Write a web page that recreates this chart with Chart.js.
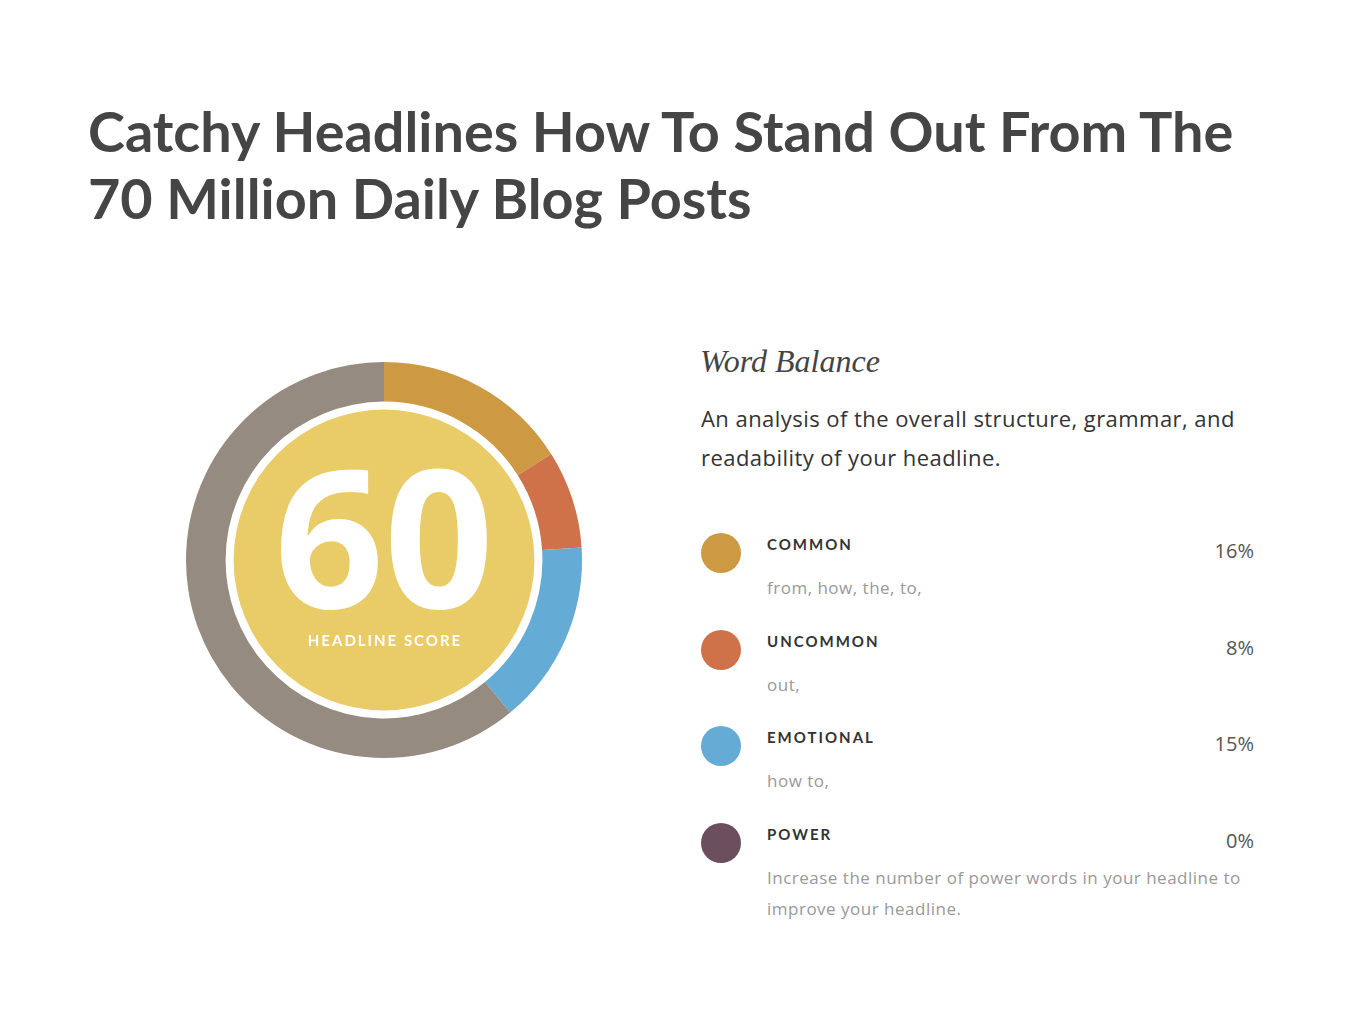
<!DOCTYPE html>
<html>
<head>
<meta charset="utf-8">
<script src="https://cdn.jsdelivr.net/npm/chart.js@4"></script>
<style>
  html, body { margin: 0; padding: 0; background: #fff; }
  body { width: 1361px; height: 1030px; position: relative; overflow: hidden; font-family: Lato, "Open Sans", sans-serif; }
  #title { position: absolute; left: 88px; top: 97px; width: 1220px; font-family: Lato, sans-serif; font-weight: 700; font-size: 55.8px; line-height: 67px; color: #454545; margin: 0; letter-spacing: 0px; }
  #chartWrap { position: absolute; left: 184px; top: 360px; width: 400px; height: 400px; }
  #wb { position: absolute; left: 700px; top: 343px; font-family: "Liberation Serif", serif; font-style: italic; font-size: 32px; color: #444; }
  #desc { position: absolute; left: 701px; top: 399px; width: 600px; font-family: "Open Sans", sans-serif; font-size: 22px; line-height: 39px; letter-spacing: 0.45px; color: #333; font-weight: 400; }
  .item { position: absolute; left: 701px; width: 553px; }
  .dot { position: absolute; left: 0; top: 0; width: 40px; height: 40px; border-radius: 50%; }
  .lab { position: absolute; left: 66px; top: 2px; font-weight: 700; font-size: 15px; letter-spacing: 2px; color: #333; }
  .pct { position: absolute; right: 0; top: 4px; font-family: "Open Sans", sans-serif; font-size: 20px; color: #555; font-weight: 400; }
  .sub { position: absolute; left: 66px; top: 39px; width: 520px; font-family: "Open Sans", sans-serif; font-size: 17px; line-height: 31px; letter-spacing: 0.5px; color: #999; }
</style>
</head>
<body>
<h1 id="title"></h1>
<div id="chartWrap"><canvas id="c" width="400" height="400"></canvas></div>
<div id="wb"></div>
<div id="desc"></div>
<div id="legend"></div>
<script>
const titleText = "Catchy Headlines How To Stand Out From The 70 Million Daily Blog Posts";
const sectionTitle = "Word Balance";
const sectionDesc = "An analysis of the overall structure, grammar, and readability of your headline.";
const score = 60;
const scoreLabel = "HEADLINE SCORE";

const categories = ["COMMON", "UNCOMMON", "EMOTIONAL", "POWER"];
const percentages = [16, 8, 15, 0];
const examples = ["from, how, the, to,", "out,", "how to,", "Increase the number of power words in your headline to<br>improve your headline."];
const remainderLabel = "OTHER";
const remainderValue = 61;

const colors = ["#CD9A43", "#CF7249", "#64ABD6", "#6C4F5E"];
const remainderColor = "#958B80";

document.getElementById('title').innerHTML = "Catchy Headlines How To Stand Out From The<br>70 Million Daily Blog Posts";
document.getElementById('wb').textContent = sectionTitle;
document.getElementById('desc').innerHTML = "An analysis of the overall structure, grammar, and<br>readability of your headline.";

const legendTops = [533, 630, 726, 823];
const legend = document.getElementById('legend');
categories.forEach((c, i) => {
  const d = document.createElement('div');
  d.className = 'item';
  d.style.top = legendTops[i] + 'px';
  d.innerHTML = '<div class="dot" style="background:' + colors[i] + '"></div>' +
    '<div class="lab">' + c + '</div>' +
    '<div class="pct">' + percentages[i] + '%</div>' +
    '<div class="sub">' + examples[i] + '</div>';
  legend.appendChild(d);
});

const centerPlugin = {
  id: 'centerScore',
  beforeDatasetsDraw(chart) {
    const arc = chart.getDatasetMeta(0).data[0];
    const ctx = chart.ctx;
    ctx.save();
    ctx.fillStyle = '#E9CB68';
    ctx.beginPath();
    ctx.arc(arc.x, arc.y, arc.innerRadius - 8, 0, Math.PI * 2);
    ctx.fill();
    ctx.restore();
  },
  afterDatasetsDraw(chart) {
    const arc = chart.getDatasetMeta(0).data[0];
    const ctx = chart.ctx;
    const x = arc.x, y = arc.y;
    ctx.save();
    ctx.fillStyle = '#ffffff';
    ctx.textAlign = 'center';
    ctx.textBaseline = 'alphabetic';
    ctx.font = '700 192px "Open Sans", Lato, sans-serif';
    ctx.fillText(String(score), x, y + 48);
    ctx.font = '700 15px Lato, sans-serif';
    ctx.letterSpacing = '2px';
    ctx.fillText(scoreLabel, x + 1, y + 86);
    ctx.restore();
  }
};

new Chart(document.getElementById('c'), {
  type: 'doughnut',
  data: {
    labels: categories.concat([remainderLabel]),
    datasets: [{
      data: percentages.concat([remainderValue]),
      backgroundColor: colors.concat([remainderColor]),
      borderWidth: 0,
      hoverOffset: 0
    }]
  },
  options: {
    responsive: false,
    animation: false,
    cutout: '80%',
    radius: 198,
    layout: { padding: 0 },
    plugins: { legend: { display: false }, tooltip: { enabled: false } }
  },
  plugins: [centerPlugin]
});
</script>
</body>
</html>
